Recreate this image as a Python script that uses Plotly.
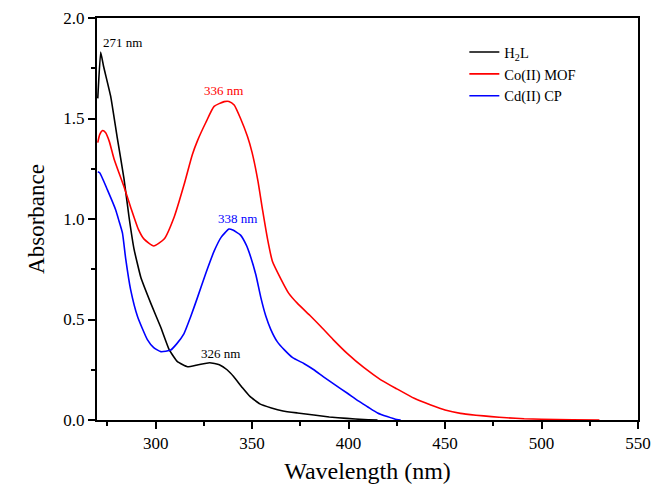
import plotly.graph_objects as go

# H2L
h2l_x = [270, 271.5, 273, 276.7, 280, 283.6, 286.2, 288.8, 292.3, 297.5, 302.7, 307, 311.3, 316.5,
         322, 328, 333, 337, 340.5, 345, 349, 354, 360, 366, 373.5, 382, 390, 399, 408, 415]
h2l_y = [1.60, 1.83, 1.76, 1.61, 1.41, 1.20, 1.01, 0.85, 0.71, 0.58, 0.46, 0.35, 0.29, 0.265,
         0.275, 0.285, 0.275, 0.25, 0.215, 0.16, 0.116, 0.08, 0.06, 0.045, 0.035, 0.025, 0.015, 0.008, 0.002, 0.0]

# Co(II) MOF
co_x = [270, 271, 272.5, 274, 276, 278.4, 283.6, 287, 291, 294, 299, 304.4, 309.6, 314.7, 319, 321.7, 326,
        330.3, 335.5, 338, 340.7, 344, 347.6, 350, 353, 355.5, 358, 360.5, 365, 369, 373.5, 380, 385.6, 392,
        399.4, 408, 416.7, 425, 434, 442.6, 450, 458, 466, 474, 482, 491, 500, 516, 530]
co_y = [1.38, 1.42, 1.44, 1.43, 1.385, 1.30, 1.16, 1.06, 0.95, 0.90, 0.866, 0.90, 1.01, 1.17, 1.32, 1.39, 1.48,
        1.56, 1.584, 1.585, 1.567, 1.50, 1.41, 1.33, 1.19, 1.04, 0.90, 0.79, 0.70, 0.63, 0.58, 0.52, 0.465, 0.40,
        0.33, 0.26, 0.20, 0.155, 0.108, 0.075, 0.05, 0.033, 0.024, 0.017, 0.011, 0.006, 0.004, 0.001, 0.0]

# Cd(II) CP
cd_x = [270, 271, 275, 279.3, 281, 282.8, 284.5, 287, 290.6, 295.7, 299, 302.7, 307.8, 311, 314.7, 318,
        321.7, 326, 330.3, 334, 338, 340, 344, 347, 349.3, 352, 354.5, 357, 359.7, 363, 366.6, 371, 377,
        382, 387, 393, 399.4, 405, 409.8, 415, 420, 425, 427]
cd_y = [1.235, 1.23, 1.145, 1.045, 0.99, 0.93, 0.80, 0.65, 0.515, 0.40, 0.36, 0.34, 0.348, 0.38, 0.43, 0.51,
        0.61, 0.73, 0.84, 0.91, 0.95, 0.945, 0.92, 0.87, 0.81, 0.72, 0.61, 0.52, 0.45, 0.39, 0.35, 0.31, 0.28,
        0.25, 0.215, 0.175, 0.133, 0.095, 0.066, 0.035, 0.017, 0.002, 0.0]

peak_labels = ["271 nm", "336 nm", "338 nm", "326 nm"]
peak_x = [283, 335, 342.6, 333.8]
peak_y = [1.88, 1.64, 1.005, 0.333]
peak_colors = ["black", "#ff0000", "#0000ff", "black"]

x_ticks = [300, 350, 400, 450, 500, 550]
y_ticks = [0.0, 0.5, 1.0, 1.5, 2.0]

FONT = "Liberation Serif, Times New Roman, serif"

fig = go.Figure()
fig.add_trace(go.Scatter(x=h2l_x, y=h2l_y, mode="lines", name="H<sub>2</sub>L",
                         line=dict(color="black", width=1.6, shape="spline", smoothing=0.35)))
fig.add_trace(go.Scatter(x=co_x, y=co_y, mode="lines", name="Co(II) MOF",
                         line=dict(color="#ff0000", width=1.6, shape="spline", smoothing=0.5)))
fig.add_trace(go.Scatter(x=cd_x, y=cd_y, mode="lines", name="Cd(II) CP",
                         line=dict(color="#0000ff", width=1.6, shape="spline", smoothing=0.5)))

for t, x, y, c in zip(peak_labels, peak_x, peak_y, peak_colors):
    fig.add_annotation(x=x, y=y, text=t, showarrow=False, xref="x", yref="y",
                       font=dict(family=FONT, size=13, color=c))

axis_common = dict(showline=True, linecolor="black", linewidth=2, mirror=True,
                   ticks="outside", ticklen=7, tickwidth=1.5, tickcolor="black",
                   showgrid=False, zeroline=False, automargin=False,
                   tickfont=dict(family=FONT, size=17, color="black"))

fig.update_xaxes(range=[269.6, 550], tickvals=x_ticks, ticktext=[str(v) for v in x_ticks],
                 minor=dict(ticks="outside", ticklen=4, tickwidth=1.5, tickcolor="black", dtick=25, tick0=275),
                 title=dict(text="Wavelength (nm)", font=dict(family=FONT, size=24, color="black"), standoff=10),
                 **axis_common)
fig.update_yaxes(range=[0, 2.0], tickvals=y_ticks, ticktext=["%.1f" % v for v in y_ticks],
                 minor=dict(ticks="outside", ticklen=4, tickwidth=1.5, tickcolor="black", dtick=0.25, tick0=0),
                 title=dict(text="Absorbance", font=dict(family=FONT, size=23, color="black"), standoff=12),
                 **axis_common)

fig.update_layout(
    width=653, height=487,
    margin=dict(l=97, r=15, t=18, b=67),
    paper_bgcolor="white", plot_bgcolor="white",
    showlegend=True,
    legend=dict(x=0.679, y=0.955, xanchor="left", yanchor="top",
                bgcolor="rgba(0,0,0,0)", borderwidth=0,
                font=dict(family=FONT, size=14.5, color="black"),
                tracegroupgap=0),
)

fig.write_html("out.html")
